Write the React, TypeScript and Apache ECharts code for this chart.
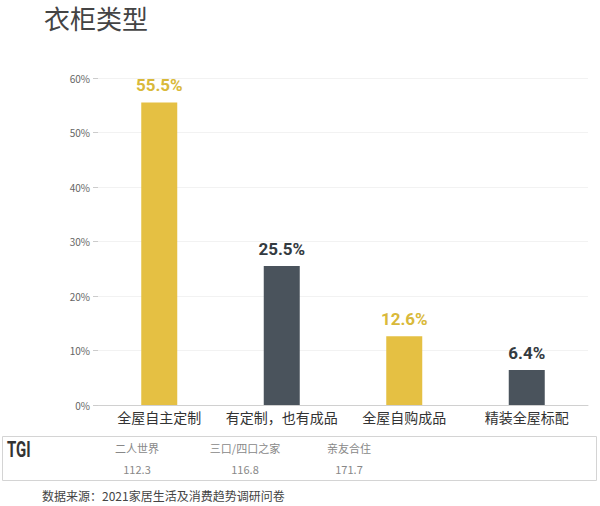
import React, { useEffect, useRef } from "react";
import * as echarts from "echarts";

const categories = ["全屋自主定制", "有定制，也有成品", "全屋自购成品", "精装全屋标配"];
const values = [55.5, 25.5, 12.6, 6.4];
const barColors = ["#E5C043", "#4A535C", "#E5C043", "#4A535C"];
const labelColors = ["#D9B93A", "#333A40", "#D9B93A", "#333A40"];
const yTicks = [0, 10, 20, 30, 40, 50, 60];
const tgiGroups = ["二人世界", "三口/四口之家", "亲友合住"];
const tgiValues = ["112.3", "116.8", "171.7"];
const tgiX = [137, 245, 349];

export default function App() {
  const ref = useRef<HTMLDivElement>(null);
  useEffect(() => {
    if (!ref.current) return;
    const chart = echarts.init(ref.current, null, { renderer: "svg" });
    const font = "'Noto Sans CJK SC', 'Noto Sans', sans-serif";
    const graphics: any[] = [
      {
        type: "text",
        left: 44,
        top: 4,
        style: { text: "衣柜类型", fontSize: 26, fill: "#444", fontFamily: font },
      },
      {
        type: "rect",
        shape: { x: 2.5, y: 436.5, width: 594, height: 44 },
        style: { fill: "none", stroke: "#D4D4D4", lineWidth: 1 },
      },
      {
        type: "text",
        x: 7,
        y: 439,
        scaleX: 0.68,
        style: { text: "TGI", fontSize: 22, fontWeight: "bold", fill: "#333", fontFamily: "Roboto, sans-serif" },
      },
      {
        type: "text",
        x: 42,
        y: 489,
        style: { text: "数据来源：2021家居生活及消费趋势调研问卷", fontSize: 12, fill: "#444", fontFamily: font },
      },
    ];
    tgiGroups.forEach((g, i) => {
      graphics.push({
        type: "text",
        x: tgiX[i],
        y: 442,
        style: { text: g, fontSize: 11, fill: "#888", align: "center", fontFamily: font },
      });
      graphics.push({
        type: "text",
        x: tgiX[i],
        y: 463,
        style: { text: tgiValues[i], fontSize: 11, fill: "#888", align: "center", fontFamily: font },
      });
    });
    chart.setOption({
      animation: false,
      textStyle: { fontFamily: font },
      grid: { left: 98, right: 12, top: 78, bottom: 101 },
      xAxis: {
        type: "category",
        data: categories,
        axisLine: { lineStyle: { color: "#D0D0D0" } },
        axisTick: { alignWithLabel: true, length: 4, lineStyle: { color: "#D0D0D0" } },
        axisLabel: { fontSize: 14, color: "#333", margin: 5, interval: 0 },
      },
      yAxis: {
        type: "value",
        min: yTicks[0],
        max: yTicks[yTicks.length - 1],
        interval: 10,
        axisLine: { show: false },
        axisTick: { show: true, length: 5, lineStyle: { color: "#CCCCCC" } },
        axisLabel: { formatter: "{value}%", fontSize: 10, color: "#666", margin: 8 },
        splitLine: { lineStyle: { color: "#F2F2F2" } },
      },
      series: [
        {
          type: "bar",
          barWidth: 36,
          data: values.map((v, i) => ({
            value: v,
            itemStyle: { color: barColors[i] },
            label: { color: labelColors[i] },
          })),
          label: {
            show: true,
            position: "top",
            distance: 9,
            formatter: "{c}%",
            fontSize: 17,
            fontWeight: "bold",
            fontFamily: "Roboto, sans-serif",
          },
        },
      ],
      graphic: graphics,
    });
    return () => chart.dispose();
  }, []);
  return (
    <div
      ref={ref}
      style={{ position: "fixed", left: 0, top: 0, width: 600, height: 506, background: "#fff" }}
    />
  );
}
